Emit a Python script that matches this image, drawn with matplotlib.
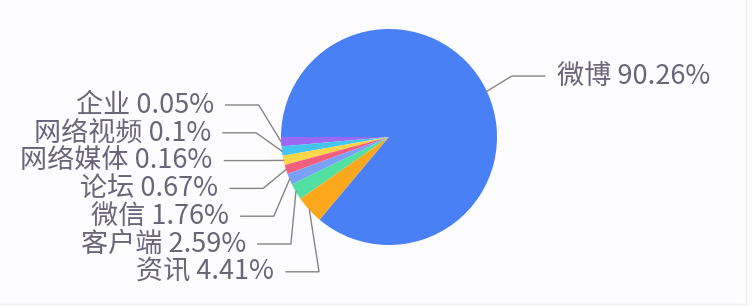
import numpy as np
import matplotlib as mpl
mpl.use('Agg')
from matplotlib import pyplot as plt

plt.rcParams['font.family'] = ['Noto Sans CJK SC', 'DejaVu Sans']

# 数据
labels = ['企业', '网络视频', '网络媒体', '论坛', '微信', '客户端', '资讯', '微博']
values = [0.05, 0.1, 0.16, 0.67, 1.76, 2.59, 4.41, 90.26]
colors = ['#9a68f2', '#45c6f2', '#ffd54a', '#f45f80', '#7aa0f8',
          '#52e0a2', '#fda81c', '#4a80f5']

# 布局 (像素坐标)
W, H = 752, 306
CX, CY, R = 389, 137, 108
MIN_ANGLE = 5.0            # 小扇区的最小角度 (类似 echarts minAngle)
ELL_A, ELL_B = 133, 158.5  # 引导线拐点所在椭圆
LEN2 = 33                  # 水平段长度
GAP = 12                   # 线与文字的间距
LEFT_Y0, LEFT_STEP = 105, 27.8
TEXT_COLOR = '#6b6578'
LINE_COLOR = '#858585'


def display_angles(vals, min_angle):
    """Small slices get min_angle, the rest share what is left."""
    vals = np.asarray(vals, float)
    small = vals / vals.sum() * 360 < min_angle
    ang = np.empty_like(vals)
    ang[small] = min_angle
    rest = 360 - min_angle * small.sum()
    ang[~small] = vals[~small] / vals[~small].sum() * rest
    return ang


fig = plt.figure(figsize=(W / 100, H / 100), dpi=100)
fig.patch.set_facecolor('#fdfdff')
ax = fig.add_axes([0, 0, 1, 1])

wedges, _ = ax.pie(display_angles(values, MIN_ANGLE), colors=colors,
                   startangle=180, counterclock=False, center=(CX, CY),
                   radius=R, wedgeprops=dict(linewidth=0))

ax.set_xlim(0, W)
ax.set_ylim(H, 0)
ax.set_aspect('equal')
ax.axis('off')

left_i = 0
for w, name, v in zip(wedges, labels, values):
    mid = np.deg2rad((w.theta1 + w.theta2) / 2)
    ex, ey = CX + R * np.cos(mid), CY + R * np.sin(mid)
    side = 1 if np.cos(mid) > 0 else -1
    if side < 0:
        by = LEFT_Y0 + left_i * LEFT_STEP
        left_i += 1
    else:
        by = CY + 144 * np.sin(mid)
    bx = CX + side * ELL_A * np.sqrt(max(0, 1 - ((by - CY) / ELL_B) ** 2))
    hx = bx + side * LEN2
    ax.plot([ex, bx, hx], [ey, by, by], color=LINE_COLOR, lw=1.0,
            solid_joinstyle='miter')
    ax.text(hx + side * GAP, by, f'{name} {v:g}%', fontsize=19.5,
            fontweight='light', color=TEXT_COLOR, va='center',
            ha='left' if side > 0 else 'right')

# 截图边缘的浅色边框
ax.plot([0, 746, 746], [304, 304, 0], color='#eceff3', lw=1.0)

fig.savefig('out.png', dpi=100, facecolor=fig.get_facecolor())
